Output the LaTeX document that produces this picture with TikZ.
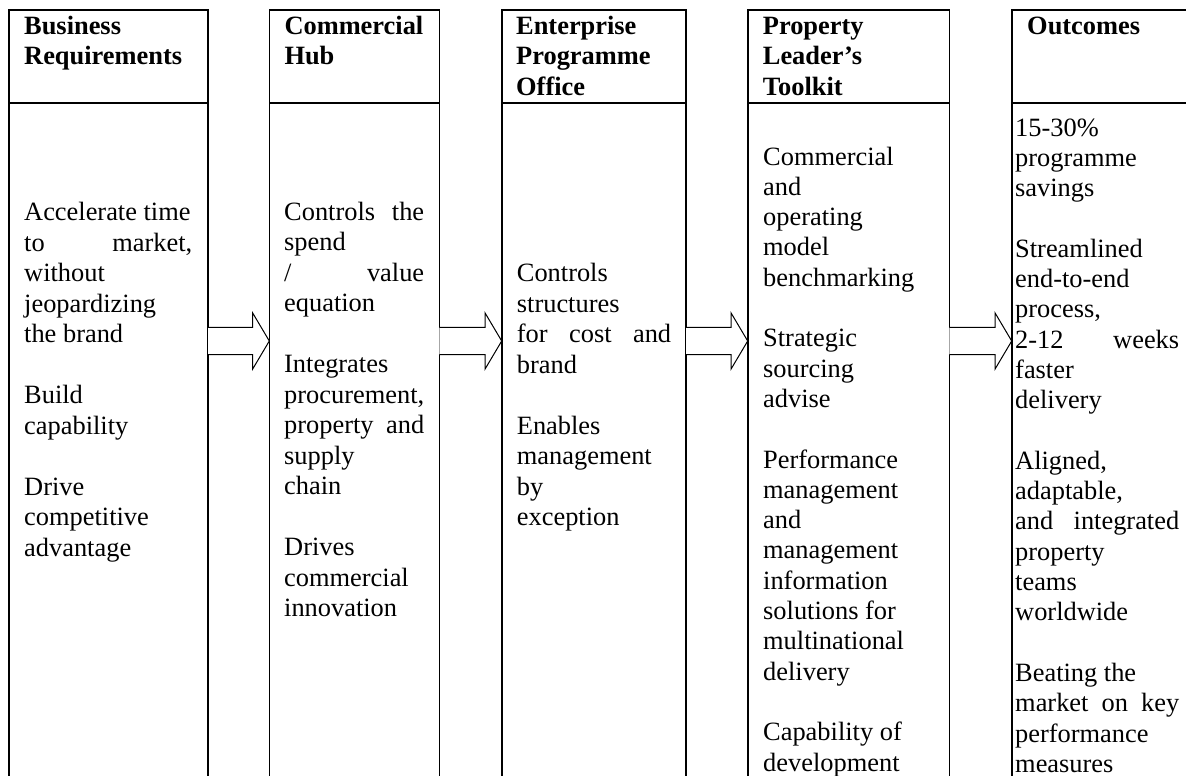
\documentclass[tikz,border=0pt]{standalone}
\usepackage{fontspec}
\setmainfont{Liberation Serif}
\usetikzlibrary{calc}
% a line stretched to a given width (justified line)
\newcommand{\jline}[2]{\makebox[#1pt][s]{#2}}
% an empty line between two paragraphs
\newcommand{\skipline}{\\[\baselineskip]}
\tikzset{
  cell/.style={draw, line width=1.6pt, inner sep=0pt, outer sep=0pt, anchor=north west},
  headtext/.style={anchor=base west, inner sep=0pt, font=\fontsize{26.4pt}{30.5pt}\selectfont\bfseries},
  bodytext/.style={anchor=base west, inner sep=0pt, font=\fontsize{26.4pt}{30.5pt}\selectfont},
  tightbody/.style={anchor=base west, inner sep=0pt, font=\fontsize{26.4pt}{30.3pt}\selectfont},
  blockarrow/.style={draw, line width=1pt, fill=white, line join=miter},
}
\begin{document}
\begin{tikzpicture}[x=1pt, y=-1pt]
\useasboundingbox (0,0) rectangle (1186,776);
\clip (0,0) rectangle (1186,776);

% column frames: header cell and body cell
\node[cell, minimum width=199pt,   minimum height=92.7pt] (h1) at (9,10) {};
\node[cell, minimum width=199pt,   minimum height=720pt]  (b1) at (9,102.7) {};
\node[cell, minimum width=170pt,   minimum height=92.7pt] (h2) at (269.3,10) {};
\node[cell, minimum width=170pt,   minimum height=720pt]  (b2) at (269.3,102.7) {};
\node[cell, minimum width=184.3pt, minimum height=92.7pt] (h3) at (501.7,10) {};
\node[cell, minimum width=184.3pt, minimum height=720pt]  (b3) at (501.7,102.7) {};
\node[cell, minimum width=201.6pt, minimum height=92.7pt] (h4) at (747.7,10) {};
\node[cell, minimum width=201.6pt, minimum height=720pt]  (b4) at (747.7,102.7) {};
\node[cell, minimum width=250pt,   minimum height=92.7pt] (h5) at (1011.7,10) {};
\node[cell, minimum width=250pt,   minimum height=720pt]  (b5) at (1011.7,102.7) {};

% headings
\node[headtext] (t1) at (24,34.5)    {\parbox[t]{250pt}{\raggedright Business\\Requirements}};
\node[headtext] (t2) at (284.3,34.5) {\parbox[t]{250pt}{\raggedright Commercial\\Hub}};
\node[headtext] (t3) at (516,34.5)   {\parbox[t]{250pt}{\raggedright Enterprise\\Programme\\Office}};
\node[headtext] (t4) at (762.7,34.5) {\parbox[t]{250pt}{\raggedright Property\\Leader’s\\Toolkit}};
\node[headtext] (t5) at (1027,34.5)  {\parbox[t]{250pt}{\raggedright Outcomes}};

% column contents
\node[bodytext] (c1) at (24,220.7) {\parbox[t]{250pt}{\raggedright
  Accelerate time\\
  \jline{168}{to market,}\\
  without\\
  jeopardizing\\
  the brand\skipline
  Build\\
  capability\skipline
  Drive\\
  competitive\\
  advantage}};

\node[bodytext] (c2) at (284,220) {\parbox[t]{250pt}{\raggedright
  \jline{140}{Controls the}\\
  spend\\
  \jline{140}{/ value}\\
  equation\skipline
  Integrates\\
  procurement,\\
  \jline{140}{property and}\\
  supply\\
  chain\skipline
  Drives\\
  commercial\\
  innovation}};

\node[bodytext] (c3) at (516.7,281.7) {\parbox[t]{250pt}{\raggedright
  Controls\\
  structures\\
  \jline{154.3}{for cost and}\\
  brand\skipline
  Enables\\
  management\\
  by\\
  exception}};

\node[tightbody] (c4) at (763,165) {\parbox[t]{250pt}{\raggedright
  Commercial\\
  and\\
  operating\\
  model\\
  benchmarking\skipline
  Strategic\\
  sourcing\\
  advise\skipline
  Performance\\
  management\\
  and\\
  management\\
  information\\
  solutions for\\
  multinational\\
  delivery\skipline
  Capability of\\
  development}};

\node[tightbody] (c5) at (1015,136) {\parbox[t]{250pt}{\raggedright
  15-30\%\\
  programme\\
  savings\skipline
  Streamlined\\
  end-to-end\\
  process,\\
  \jline{164}{2-12 weeks}\\
  faster\\
  delivery\skipline
  Aligned,\\
  adaptable,\\
  \jline{164}{and integrated}\\
  property\\
  teams\\
  worldwide\skipline
  Beating the\\
  \jline{164}{market on key}\\
  performance\\
  measures}};

% block arrows between the columns
\coordinate (ay) at (0,341);
\foreach \a/\b in {b1/b2, b2/b3, b3/b4, b4/b5} {
  \draw[blockarrow]
    ($(\a.east|-ay)+(0,-13.7)$) -- ($(\b.west|-ay)+(-16.6,-13.7)$)
    -- ($(\b.west|-ay)+(-16.6,-28)$) -- (\b.west|-ay)
    -- ($(\b.west|-ay)+(-16.6,28)$) -- ($(\b.west|-ay)+(-16.6,13.7)$)
    -- ($(\a.east|-ay)+(0,13.7)$);
}
\end{tikzpicture}
\end{document}
